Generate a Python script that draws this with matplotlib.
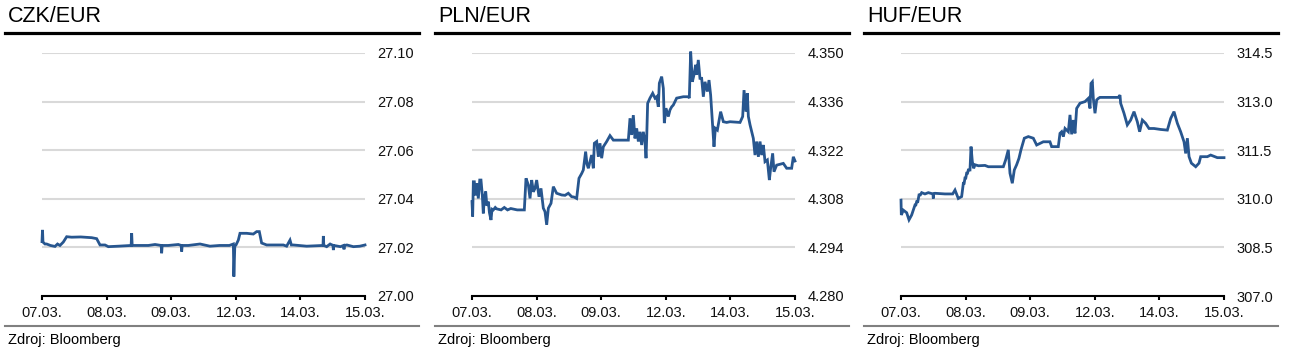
import matplotlib.pyplot as plt
from matplotlib.lines import Line2D
from matplotlib.ticker import FormatStrFormatter

plt.rcParams['font.family'] = ['Liberation Sans', 'DejaVu Sans']

# x = trading-day index (0 = 07.03., 5 = 15.03.)
dates = ['07.03.', '08.03.', '09.03.', '12.03.', '14.03.', '15.03.']

czk_x = [0.000, 0.008, 0.015, 0.046, 0.072, 0.130, 0.201, 0.240, 0.278, 0.330,
         0.382, 0.459, 0.600, 0.769, 0.846, 0.898, 0.975, 1.027, 1.182, 1.380,
         1.388, 1.396, 1.440, 1.646, 1.750, 1.845, 1.852, 1.860, 1.955, 2.110,
         2.155, 2.162, 2.170, 2.265, 2.446, 2.600, 2.750, 2.900, 2.962, 2.970,
         2.985, 3.003, 3.039, 3.065, 3.168, 3.271, 3.323, 3.364, 3.400, 3.478,
         3.633, 3.736, 3.787, 3.839, 3.860, 3.891, 4.097, 4.350, 4.355, 4.362,
         4.407, 4.460, 4.505, 4.510, 4.518, 4.620, 4.668, 4.675, 4.682, 4.720,
         4.820, 4.920, 5.000]
czk_y = [27.0224, 27.0272, 27.0222, 27.0214, 27.0214, 27.0208, 27.0204, 27.0214, 27.0208, 27.0222,
         27.0244, 27.0242, 27.0243, 27.0240, 27.0236, 27.0210, 27.0210, 27.0203, 27.0205, 27.0208,
         27.0258, 27.0208, 27.0208, 27.0208, 27.0212, 27.0208, 27.0176, 27.0208, 27.0208, 27.0212,
         27.0208, 27.0183, 27.0208, 27.0208, 27.0214, 27.0205, 27.0208, 27.0208, 27.0214, 27.0080,
         27.0208, 27.0210, 27.0230, 27.0258, 27.0258, 27.0255, 27.0265, 27.0265, 27.0218, 27.0210,
         27.0210, 27.0210, 27.0205, 27.0230, 27.0210, 27.0210, 27.0205, 27.0208, 27.0247, 27.0208,
         27.0203, 27.0214, 27.0208, 27.0189, 27.0208, 27.0203, 27.0208, 27.0192, 27.0208, 27.0210,
         27.0203, 27.0205, 27.0210]

pln_x = [0.000, 0.010, 0.021, 0.036, 0.050, 0.072, 0.098, 0.120, 0.139, 0.160,
         0.175, 0.190, 0.212, 0.230, 0.253, 0.270, 0.294, 0.310, 0.330, 0.360,
         0.382, 0.450, 0.500, 0.550, 0.600, 0.700, 0.810, 0.836, 0.872, 0.898,
         0.924, 0.950, 0.975, 1.001, 1.037, 1.068, 1.104, 1.130, 1.156, 1.182,
         1.223, 1.259, 1.310, 1.388, 1.440, 1.491, 1.543, 1.580, 1.620, 1.656,
         1.698, 1.723, 1.759, 1.780, 1.801, 1.852, 1.878, 1.894, 1.930, 1.956,
         1.981, 2.007, 2.033, 2.085, 2.136, 2.188, 2.317, 2.420, 2.446, 2.472,
         2.497, 2.523, 2.549, 2.575, 2.601, 2.626, 2.652, 2.678, 2.694, 2.704,
         2.719, 2.755, 2.797, 2.833, 2.858, 2.884, 2.900, 2.936, 2.962, 2.977,
         3.003, 3.039, 3.065, 3.091, 3.116, 3.168, 3.271, 3.349, 3.364, 3.385,
         3.411, 3.436, 3.462, 3.478, 3.503, 3.529, 3.555, 3.581, 3.607, 3.643,
         3.669, 3.694, 3.725, 3.746, 3.767, 3.798, 3.849, 3.891, 3.942, 3.994,
         4.149, 4.190, 4.211, 4.242, 4.262, 4.278, 4.304, 4.355, 4.381, 4.407,
         4.433, 4.459, 4.484, 4.510, 4.536, 4.572, 4.603, 4.623, 4.654, 4.675,
         4.716, 4.819, 4.871, 4.948, 4.974, 5.000]
pln_y = [4.3072, 4.3029, 4.3129, 4.3129, 4.3090, 4.3125, 4.3081, 4.3134, 4.3134, 4.3090,
         4.3038, 4.3080, 4.3101, 4.3060, 4.3072, 4.3040, 4.3019, 4.3050, 4.3048, 4.3055,
         4.3051, 4.3048, 4.3055, 4.3048, 4.3052, 4.3048, 4.3048, 4.3139, 4.3120, 4.3081,
         4.3134, 4.3100, 4.3110, 4.3134, 4.3086, 4.3110, 4.3053, 4.3043, 4.3005, 4.3053,
         4.3067, 4.3115, 4.3096, 4.3091, 4.3090, 4.3096, 4.3086, 4.3085, 4.3081, 4.3139,
         4.3153, 4.3163, 4.3216, 4.3180, 4.3168, 4.3206, 4.3168, 4.3240, 4.3245, 4.3201,
         4.3240, 4.3197, 4.3230, 4.3245, 4.3262, 4.3249, 4.3249, 4.3249, 4.3312, 4.3264,
         4.3321, 4.3254, 4.3283, 4.3245, 4.3273, 4.3235, 4.3273, 4.3245, 4.3197, 4.3254,
         4.3355, 4.3370, 4.3384, 4.3370, 4.3374, 4.3345, 4.3413, 4.3432, 4.3398, 4.3298,
         4.3341, 4.3317, 4.3336, 4.3345, 4.3350, 4.3370, 4.3374, 4.3374, 4.3370, 4.3504,
         4.3417, 4.3437, 4.3466, 4.3437, 4.3480, 4.3427, 4.3427, 4.3374, 4.3417, 4.3389,
         4.3422, 4.3379, 4.3293, 4.3230, 4.3283, 4.3278, 4.3331, 4.3302, 4.3300, 4.3302,
         4.3300, 4.3317, 4.3393, 4.3331, 4.3384, 4.3317, 4.3293, 4.3254, 4.3206, 4.3245,
         4.3201, 4.3245, 4.3206, 4.3235, 4.3187, 4.3192, 4.3134, 4.3168, 4.3211, 4.3158,
         4.3177, 4.3182, 4.3168, 4.3168, 4.3201, 4.3189]

huf_x = [0.000, 0.005, 0.036, 0.088, 0.124, 0.165, 0.190, 0.217, 0.230, 0.242,
         0.260, 0.279, 0.300, 0.320, 0.371, 0.423, 0.495, 0.500, 0.505, 0.526,
         0.681, 0.800, 0.836, 0.887, 0.939, 0.965, 0.978, 0.990, 1.003, 1.016,
         1.030, 1.042, 1.068, 1.084, 1.104, 1.125, 1.146, 1.198, 1.300, 1.352,
         1.584, 1.620, 1.661, 1.687, 1.723, 1.754, 1.790, 1.826, 1.857, 1.909,
         1.971, 2.048, 2.100, 2.152, 2.203, 2.306, 2.332, 2.435, 2.461, 2.487,
         2.513, 2.539, 2.590, 2.616, 2.642, 2.668, 2.693, 2.719, 2.771, 2.848,
         2.900, 2.926, 2.941, 2.962, 2.977, 3.003, 3.029, 3.055, 3.080, 3.364,
         3.390, 3.400, 3.452, 3.503, 3.555, 3.607, 3.658, 3.694, 3.736, 3.787,
         3.839, 3.916, 4.020, 4.123, 4.175, 4.226, 4.278, 4.329, 4.381, 4.407,
         4.433, 4.459, 4.495, 4.562, 4.613, 4.639, 4.742, 4.794, 4.897, 5.000]
huf_y = [309.96, 309.50, 309.65, 309.57, 309.35, 309.50, 309.65, 309.81, 309.81, 309.91,
         309.91, 310.12, 310.12, 310.19, 310.15, 310.19, 310.15, 310.01, 310.15, 310.17,
         310.15, 310.15, 310.27, 310.01, 310.07, 310.48, 310.48, 310.64, 310.64, 310.79,
         310.79, 310.89, 310.89, 311.61, 311.15, 310.94, 311.05, 311.02, 311.03, 310.99,
         310.99, 311.20, 311.51, 310.79, 310.48, 310.89, 311.05, 311.25, 311.51, 311.87,
         311.92, 311.87, 311.66, 311.71, 311.76, 311.76, 311.61, 311.61, 312.02, 312.07,
         311.92, 312.17, 312.07, 312.59, 311.99, 312.43, 312.02, 312.79, 312.95, 313.00,
         313.10, 312.79, 313.56, 313.61, 313.10, 312.64, 313.05, 313.10, 313.13, 313.13,
         313.20, 312.95, 312.64, 312.28, 312.43, 312.69, 312.38, 312.07, 312.43, 312.33,
         312.17, 312.17, 312.14, 312.12, 312.48, 312.69, 312.33, 312.07, 311.76, 311.40,
         311.87, 311.30, 311.10, 310.99, 311.10, 311.30, 311.30, 311.35, 311.27, 311.27]

titles = ['CZK/EUR', 'PLN/EUR', 'HUF/EUR']
czk_ticks = [27.00, 27.02, 27.04, 27.06, 27.08, 27.10]
pln_ticks = [4.280, 4.294, 4.308, 4.322, 4.336, 4.350]
huf_ticks = [307.0, 308.5, 310.0, 311.5, 313.0, 314.5]
source = 'Zdroj: Bloomberg'

W, H = 1300, 353
fig = plt.figure(figsize=(13, 3.53), dpi=100)

panels = [
    (czk_x, czk_y, czk_ticks, '%.2f', 0),
    (pln_x, pln_y, pln_ticks, '%.3f', 430),
    (huf_x, huf_y, huf_ticks, '%.1f', 859),
]

for (xs, ys, ticks, fmt, off), title in zip(panels, titles):
    ax = fig.add_axes([(42 + off) / W, 1 - 296 / H, 323 / W, 243 / H])
    ax.plot(xs, ys, color='#27568f', lw=2.0, clip_on=False, zorder=3,
            solid_joinstyle='miter')
    ax.set_xlim(0, 5)
    ax.set_ylim(ticks[0], ticks[-1])
    ax.set_yticks(ticks)
    ax.yaxis.set_major_formatter(FormatStrFormatter(fmt))
    ax.set_xticks(range(6))
    ax.set_xticklabels(dates)
    ax.yaxis.tick_right()
    ax.grid(axis='y', color='#d9d9d9', lw=1.5)
    ax.set_axisbelow(True)
    for s in ['top', 'left', 'right']:
        ax.spines[s].set_visible(False)
    ax.spines['bottom'].set_linewidth(1.5)
    ax.tick_params(axis='y', length=0, pad=9, labelsize=10.5, labelcolor='#111111')
    ax.tick_params(axis='x', length=3, width=1.5, pad=4, labelsize=10.5, labelcolor='#111111')

    # header, rules and source
    fig.text((8 + off) / W, 1 - 17 / H, title, fontsize=15.5, va='center', ha='left')
    fig.add_artist(Line2D([(5 + off) / W, (419 + off) / W], [1 - 33 / H] * 2,
                          color='black', lw=2.3, transform=fig.transFigure))
    fig.add_artist(Line2D([(5 + off) / W, (419 + off) / W], [1 - 326 / H] * 2,
                          color='#808080', lw=1.5, transform=fig.transFigure))
    fig.text((8 + off) / W, 1 - 340 / H, source, fontsize=10.5, va='center', ha='left')

fig.savefig('out.png', dpi=100)
